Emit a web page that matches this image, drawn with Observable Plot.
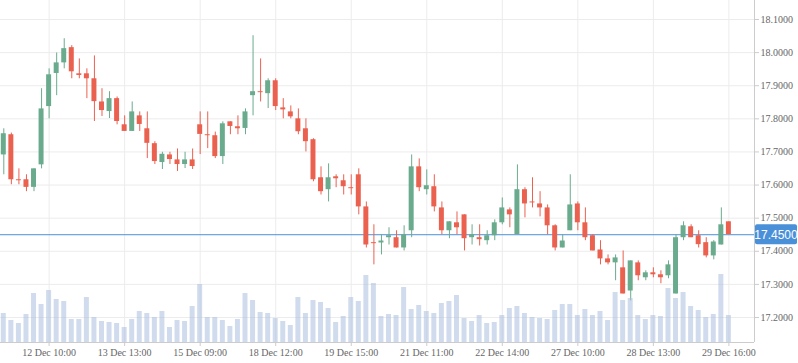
<!DOCTYPE html>
<html><head><meta charset="utf-8">
<script src="https://cdn.jsdelivr.net/npm/d3@7"></script>
<script src="https://cdn.jsdelivr.net/npm/@observablehq/plot@0.6"></script>
<style>
html,body{margin:0;padding:0;background:#fff;}
#chart{position:relative;width:798px;height:363px;overflow:hidden;}
#chart svg{position:absolute;left:0;top:0;}
</style>
</head><body><div id="chart"></div>
<script>
const open = [17.691,17.752,17.616,17.616,17.593,17.661,17.837,17.937,17.969,18.015,17.936,17.936,17.921,17.851,17.822,17.861,17.782,17.762,17.809,17.770,17.725,17.668,17.691,17.676,17.662,17.676,17.782,17.752,17.749,17.686,17.791,17.776,17.771,17.870,17.882,17.876,17.915,17.833,17.821,17.800,17.770,17.737,17.622,17.586,17.625,17.613,17.592,17.631,17.534,17.426,17.425,17.441,17.441,17.410,17.462,17.655,17.586,17.595,17.531,17.462,17.486,17.510,17.441,17.441,17.432,17.447,17.486,17.525,17.450,17.586,17.549,17.543,17.531,17.477,17.410,17.462,17.543,17.486,17.447,17.404,17.377,17.365,17.350,17.280,17.365,17.320,17.335,17.329,17.326,17.271,17.441,17.474,17.447,17.426,17.386,17.419,17.489];
const close = [17.755,17.616,17.613,17.593,17.649,17.830,17.933,17.969,18.012,17.942,17.931,17.921,17.852,17.825,17.861,17.792,17.762,17.821,17.783,17.726,17.671,17.693,17.677,17.662,17.676,17.656,17.753,17.749,17.686,17.785,17.777,17.770,17.821,17.882,17.879,17.915,17.837,17.827,17.806,17.761,17.731,17.616,17.580,17.622,17.619,17.595,17.589,17.534,17.419,17.423,17.431,17.447,17.410,17.450,17.655,17.592,17.598,17.534,17.462,17.489,17.471,17.438,17.450,17.435,17.447,17.486,17.531,17.510,17.586,17.543,17.546,17.531,17.477,17.410,17.431,17.540,17.486,17.441,17.401,17.377,17.365,17.380,17.271,17.371,17.326,17.335,17.329,17.320,17.359,17.441,17.477,17.441,17.420,17.386,17.428,17.480,17.450];
const high = [17.770,17.757,17.649,17.631,17.649,17.891,17.951,17.999,18.042,18.021,17.981,17.951,17.990,17.891,17.882,17.866,17.809,17.851,17.821,17.821,17.731,17.699,17.699,17.709,17.699,17.709,17.821,17.821,17.760,17.791,17.791,17.809,17.830,18.051,17.981,17.921,17.921,17.861,17.839,17.830,17.800,17.740,17.655,17.664,17.631,17.631,17.631,17.649,17.549,17.480,17.450,17.471,17.462,17.477,17.691,17.679,17.646,17.631,17.549,17.489,17.519,17.510,17.480,17.480,17.462,17.495,17.561,17.531,17.661,17.592,17.622,17.580,17.540,17.480,17.450,17.631,17.549,17.531,17.450,17.432,17.389,17.389,17.401,17.371,17.371,17.341,17.350,17.341,17.371,17.450,17.489,17.480,17.462,17.441,17.432,17.531,17.489];
const low = [17.631,17.601,17.601,17.580,17.580,17.649,17.800,17.870,17.951,17.921,17.921,17.861,17.792,17.807,17.801,17.782,17.762,17.762,17.762,17.680,17.662,17.647,17.662,17.641,17.650,17.647,17.692,17.710,17.680,17.662,17.752,17.752,17.752,17.809,17.851,17.831,17.825,17.800,17.800,17.752,17.700,17.610,17.570,17.549,17.592,17.570,17.570,17.510,17.410,17.359,17.389,17.419,17.410,17.401,17.441,17.580,17.570,17.519,17.450,17.438,17.450,17.401,17.419,17.416,17.419,17.432,17.480,17.471,17.450,17.501,17.531,17.504,17.450,17.401,17.410,17.462,17.462,17.432,17.401,17.359,17.359,17.311,17.271,17.250,17.311,17.311,17.320,17.302,17.317,17.271,17.432,17.441,17.410,17.380,17.374,17.419,17.450];
const volume = [29000,22000,19000,28000,49000,38000,52000,43000,41000,23000,23000,45000,25000,21000,20000,19000,15000,23000,31000,29000,25000,31000,15000,22000,21000,36000,58000,25000,25000,22000,16000,23000,49000,42000,30000,29000,24000,21000,17000,45000,29000,42000,40000,34000,20000,26000,45000,41000,67000,59000,26000,28000,27000,55000,33000,37000,31000,29000,39000,41000,47000,24000,21000,27000,19000,20000,27000,34000,36000,29000,25000,24000,23000,32000,38000,38000,27000,33000,27000,31000,22000,50000,42000,44000,27000,23000,27000,26000,54000,44000,50000,36000,32000,25000,28000,68000,27000];
const xTickIndex = [6,16,26,36,46,56,66,76,86,96];
const xTickLabels = ["12 Dec 10:00","13 Dec 13:00","15 Dec 09:00","18 Dec 12:00","19 Dec 15:00","21 Dec 11:00","22 Dec 14:00","27 Dec 10:00","28 Dec 13:00","29 Dec 16:00"];
const yTicks = [17.2,17.3,17.4,17.5,17.6,17.7,17.8,17.9,18.0,18.1];

const UP = "#6aab8e", DOWN = "#eb6150", BLUE = "#4a90d9", GRID = "#ececec", AXIS = "#cccccc";
const data = open.map((o, i) => ({i, o, c: close[i], h: high[i], l: low[i], v: volume[i], up: close[i] >= o}));

const W = 798, H = 363, MR = 44, MB = 21;
const xDomain = [-0.437, 99.39];
const yDomain = [17.1245, 18.1574];
const baseStyle = {fontFamily: "'Liberation Serif', 'Times New Roman', serif", fontSize: "10px", color: "#666", background: "transparent", overflow: "visible"};

const main = Plot.plot({
  width: W, height: H, marginLeft: 0, marginRight: MR, marginTop: 0, marginBottom: MB,
  style: baseStyle,
  x: {type: "linear", domain: xDomain},
  y: {domain: yDomain},
  marks: [
    Plot.ruleY(yTicks, {stroke: GRID, strokeWidth: 1}),
    Plot.ruleX(xTickIndex, {stroke: GRID, strokeWidth: 1}),
    Plot.ruleY([yDomain[0]], {stroke: AXIS}),
    Plot.ruleX([xDomain[1]], {stroke: AXIS}),
    Plot.axisY({anchor: "right", ticks: yTicks, tickFormat: d => d.toFixed(4), tickSize: 4, tickPadding: 2, stroke: AXIS, label: null, fill: "#666"}),
    Plot.axisX({ticks: xTickIndex, tickFormat: d => xTickLabels[xTickIndex.indexOf(d)], tickSize: 4, tickPadding: 2, stroke: AXIS, label: null, fill: "#666"}),
    Plot.ruleY([close[close.length - 1]], {stroke: BLUE, strokeWidth: 1}),
    Plot.ruleX(data, {x: "i", y1: "l", y2: "h", stroke: d => d.up ? UP : DOWN, strokeWidth: 1}),
    Plot.rect(data, {x1: d => d.i - 0.33, x2: d => d.i + 0.33, y1: "o", y2: "c", fill: d => d.up ? UP : DOWN})
  ]
});

const vol = Plot.plot({
  width: W, height: H, marginLeft: 0, marginRight: MR, marginTop: 0, marginBottom: MB,
  style: baseStyle,
  x: {type: "linear", domain: xDomain, axis: null},
  y: {domain: [0, 342000], axis: null},
  marks: [
    Plot.rect(data, {x1: d => d.i - 0.33, x2: d => d.i + 0.33, y1: 0, y2: "v", fill: "#a9c0de", fillOpacity: 0.55})
  ]
});

// last price label, positioned with the plot's own y scale
const last = close[close.length - 1];
const yPx = main.scale("y").apply(last);
const xPx = W - MR + 1;
const g = d3.select(main).append("g");
g.append("rect").attr("x", xPx).attr("y", yPx - 10).attr("width", W - xPx - 1).attr("height", 20).attr("rx", 2).attr("fill", BLUE);
g.append("text").attr("x", xPx + (W - xPx - 1) / 2).attr("y", yPx).attr("dy", "0.36em").attr("text-anchor", "middle")
  .attr("fill", "#fff").style("font-family", "'Liberation Sans', Arial, sans-serif").style("font-size", "12px").text(last.toFixed(4));

const el = document.getElementById("chart");
el.appendChild(main);
el.appendChild(vol);
vol.style.pointerEvents = "none";
</script>
</body></html>
